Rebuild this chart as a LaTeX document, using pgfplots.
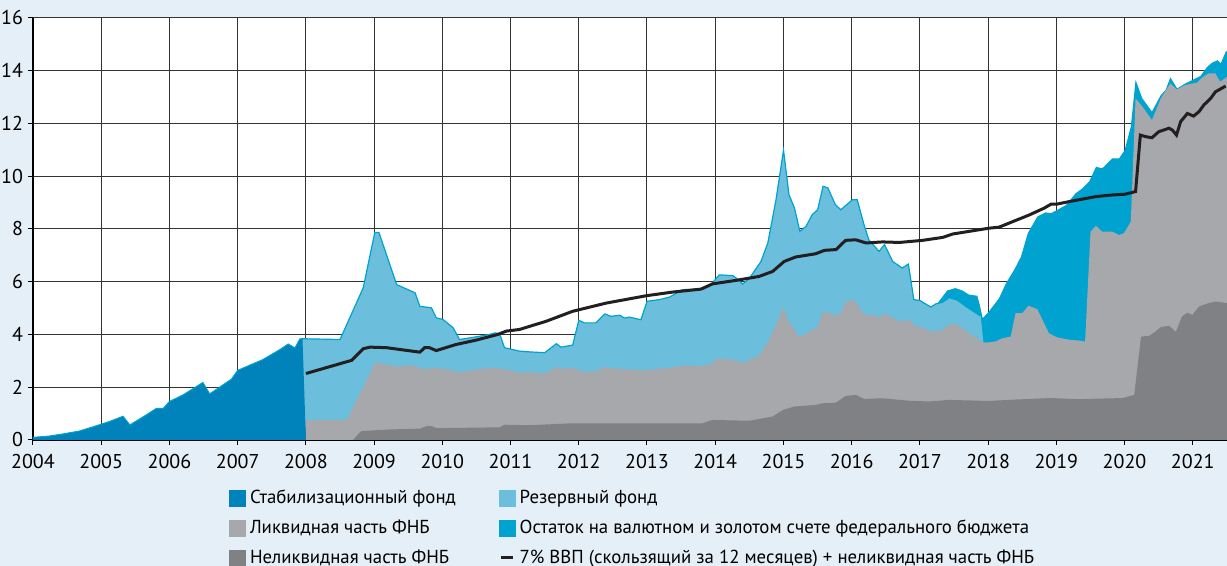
\documentclass[border=0pt]{standalone}
\usepackage{fontspec}
\setmainfont{PT Sans}
\usepackage{pgfplots}
\usepackage{pgfplotstable}
\pgfplotsset{compat=1.18}
\definecolor{bg}{HTML}{E4EFF7}
\definecolor{stab}{HTML}{0082BA}
\definecolor{res}{HTML}{6BBEDC}
\definecolor{rem}{HTML}{00A2CF}
\definecolor{liq}{HTML}{A7A8AC}
\definecolor{illiq}{HTML}{808185}
\definecolor{gdp}{HTML}{231F20}
\definecolor{gridc}{HTML}{333333}

\pgfplotstableread{
x y
2004.0 0.10
2004.24 0.15
2004.44 0.23
2004.68 0.34
2004.88 0.50
2005.0 0.60
2005.12 0.70
2005.32 0.90
2005.42 0.57
2005.66 0.95
2005.81 1.20
2005.91 1.20
2006.0 1.46
2006.2 1.71
2006.49 2.18
2006.59 1.75
2006.91 2.31
2007.0 2.64
2007.37 3.05
2007.62 3.43
2007.74 3.64
2007.84 3.49
2007.91 3.83
2007.95 3.83
2008.0 0
}\stabdata

\pgfplotstableread{
x y
2008.0 0
2007.93 3.84
2008.5 3.81
2008.84 5.77
2009.01 7.87
2009.07 7.87
2009.33 5.89
2009.6 5.58
2009.67 5.07
2009.84 5.01
2009.91 4.63
2010.01 4.57
2010.16 4.25
2010.25 3.81
2010.4 3.87
2010.69 4.00
2010.77 4.06
2010.84 4.03
2010.91 3.50
2011.13 3.37
2011.28 3.34
2011.5 3.31
2011.67 3.65
2011.74 3.52
2011.91 3.60
2012.0 4.54
2012.08 4.44
2012.25 4.44
2012.38 4.78
2012.47 4.69
2012.6 4.73
2012.67 4.62
2012.74 4.66
2012.91 4.56
2013.0 5.26
2013.18 5.32
2013.33 5.42
2013.52 5.70
2013.77 5.72
2013.91 5.82
2014.06 6.26
2014.26 6.23
2014.33 6.09
2014.4 5.91
2014.5 6.13
2014.67 6.77
2014.77 7.47
2014.89 9.11
2015.0 10.99
2015.08 9.30
2015.16 8.80
2015.24 7.91
2015.33 8.10
2015.42 8.54
2015.5 8.73
2015.58 9.62
2015.65 9.56
2015.76 8.92
2015.84 8.73
2016.01 9.11
2016.08 9.11
2016.18 8.16
2016.25 7.59
2016.4 7.15
2016.48 7.41
2016.6 6.77
2016.74 6.52
2016.83 6.67
2016.91 5.32
2017.0 5.29
2017.06 5.19
2017.16 5.04
2017.23 5.16
2017.33 5.22
2017.43 5.40
2017.55 5.30
2017.68 5.05
2017.8 4.85
2017.89 4.70
2017.93 3.70
}\resdata

\pgfplotstableread{
x y
2017.25 5.16
2017.4 5.67
2017.52 5.76
2017.62 5.67
2017.72 5.51
2017.84 5.47
2017.87 5.19
2017.92 4.62
2018.01 4.87
2018.16 5.38
2018.26 5.94
2018.38 6.45
2018.48 6.95
2018.58 7.84
2018.72 8.47
2018.84 8.63
2018.92 8.60
2019.01 8.72
2019.14 8.91
2019.28 9.35
2019.38 9.54
2019.48 9.80
2019.58 10.36
2019.67 10.30
2019.82 10.68
2019.92 10.68
2020.0 10.99
2020.09 11.88
2020.16 13.65
2020.26 12.95
2020.40 12.45
2020.53 13.08
2020.6 13.27
2020.67 13.75
2020.77 13.33
2020.89 13.52
2021.01 13.67
2021.11 13.80
2021.21 14.15
2021.28 14.30
2021.36 14.40
2021.41 14.28
2021.48 14.72
2021.5 14.75
}\remdata

\pgfplotstableread{
x y
2008.0 0.76
2008.6 0.76
2009.02 2.95
2009.18 2.86
2009.33 2.78
2009.55 2.84
2009.74 2.68
2009.91 2.74
2010.06 2.68
2010.25 2.57
2010.45 2.65
2010.74 2.74
2010.99 2.65
2011.13 2.55
2011.28 2.57
2011.5 2.52
2011.67 2.76
2011.74 2.70
2011.91 2.74
2012.08 2.57
2012.25 2.61
2012.38 2.76
2012.55 2.70
2012.74 2.67
2013.0 2.65
2013.33 2.74
2013.52 2.82
2013.77 2.80
2013.94 2.86
2014.01 3.08
2014.2 3.08
2014.4 2.92
2014.5 3.04
2014.64 3.19
2014.79 3.80
2014.91 4.49
2015.0 5.06
2015.06 4.56
2015.13 4.30
2015.23 3.90
2015.33 4.03
2015.5 4.30
2015.58 4.87
2015.67 4.81
2015.76 4.71
2015.84 4.81
2015.91 5.25
2016.04 5.32
2016.16 4.81
2016.26 4.71
2016.33 4.75
2016.4 4.62
2016.48 4.81
2016.6 4.62
2016.74 4.49
2016.84 4.56
2016.94 4.30
2017.04 4.27
2017.16 4.11
2017.31 4.15
2017.43 4.37
2017.53 4.41
2017.72 4.05
2017.92 3.70
2018.01 3.70
2018.11 3.74
2018.21 3.86
2018.33 3.92
2018.4 4.81
2018.5 4.81
2018.59 5.09
2018.72 4.96
2018.89 4.05
2019.01 3.89
2019.19 3.80
2019.33 3.77
2019.42 3.73
2019.5 7.90
2019.58 8.12
2019.67 7.90
2019.82 7.90
2019.92 7.77
2019.99 7.84
2020.09 8.28
2020.16 12.95
2020.26 12.64
2020.40 12.13
2020.53 12.95
2020.67 13.52
2020.76 13.29
2020.89 13.46
2021.06 13.55
2021.14 13.75
2021.23 13.90
2021.33 13.90
2021.40 13.58
2021.5 13.77
}\liqdata

\pgfplotstableread{
x y
2008.69 0
2008.81 0.34
2009.23 0.40
2009.67 0.43
2009.77 0.53
2009.84 0.53
2009.91 0.45
2010.84 0.48
2010.91 0.58
2011.28 0.56
2011.86 0.63
2013.81 0.63
2013.96 0.76
2014.5 0.73
2014.69 0.82
2014.84 0.89
2014.99 1.14
2015.16 1.27
2015.47 1.33
2015.57 1.39
2015.77 1.42
2015.91 1.67
2016.06 1.71
2016.18 1.56
2016.45 1.58
2016.84 1.49
2017.13 1.46
2017.43 1.52
2018.01 1.48
2018.36 1.53
2018.92 1.59
2019.33 1.55
2019.97 1.59
2020.14 1.71
2020.24 3.92
2020.36 3.95
2020.45 4.11
2020.53 4.28
2020.65 4.33
2020.75 4.10
2020.84 4.68
2020.92 4.83
2020.99 4.74
2021.09 5.06
2021.23 5.19
2021.33 5.25
2021.5 5.19
}\illiqdata

\pgfplotstableread{
x y
2008.0 2.52
2008.67 3.02
2008.84 3.46
2008.94 3.52
2009.18 3.50
2009.67 3.33
2009.74 3.50
2009.81 3.50
2009.91 3.39
2010.2 3.62
2010.5 3.79
2010.81 4.00
2010.94 4.13
2011.13 4.19
2011.28 4.31
2011.52 4.50
2011.91 4.88
2012.4 5.19
2012.99 5.47
2013.38 5.61
2013.79 5.72
2013.96 5.92
2014.3 6.05
2014.64 6.20
2014.84 6.39
2015.01 6.77
2015.18 6.94
2015.47 7.06
2015.6 7.19
2015.77 7.22
2015.91 7.57
2016.06 7.59
2016.21 7.47
2016.45 7.51
2016.7 7.49
2017.04 7.57
2017.33 7.68
2017.48 7.81
2017.72 7.91
2018.01 8.03
2018.16 8.07
2018.36 8.28
2018.6 8.53
2018.82 8.79
2018.92 8.94
2019.0 8.94
2019.19 9.04
2019.58 9.23
2019.82 9.29
2020.01 9.32
2020.16 9.42
2020.23 11.56
2020.31 11.50
2020.40 11.46
2020.5 11.69
2020.65 11.82
2020.7 11.75
2020.76 11.56
2020.82 12.07
2020.92 12.38
2021.01 12.28
2021.09 12.45
2021.16 12.70
2021.26 12.95
2021.33 13.20
2021.48 13.42
}\gdpdata

\begin{document}
\begin{tikzpicture}[x=1pt,y=1pt]
\fill[bg] (-16.5,-63) rectangle (597,220);
\begin{axis}[
  at={(0,0)}, anchor=south west,
  scale only axis, width=597pt, height=211pt,
  xmin=2004, xmax=2021.5, ymin=0, ymax=16,
  axis background/.style={fill=white},
  xtick={2004,...,2021}, ytick={0,2,...,16},
  grid=major, major grid style={gridc, line width=0.5pt},
  axis x line*=bottom, axis y line*=left,
  axis line style={-, black, line width=0.6pt},
  tick align=outside, major tick length=2.5pt,
  tick style={black, line width=0.5pt},
  /pgf/number format/1000 sep={},
  /pgf/number format/assume math mode=true,
  tick label style={font=\fontsize{10}{12}\selectfont},
  xticklabel style={yshift=-1pt},
  yticklabel style={xshift=1pt},
  legend columns=2,
  legend cell align=left,
  legend style={at={(rel axis cs:0.164,-0.108)}, anchor=north west,
    draw=none, fill=none, inner sep=0pt,
    font=\fontsize{9.4}{11}\selectfont,
    row sep=2.6pt,
    /tikz/every even column/.append style={column sep=19.5pt}},
]
\addplot[fill=rem, draw=none, forget plot] table {\remdata} \closedcycle;
\addplot[fill=res, draw=none, forget plot] table {\resdata} \closedcycle;
\addplot[rem, line width=0.6pt, forget plot, skip coords between index={0}{1}, restrict x to domain=2007:2017.9] table {\resdata};
\addplot[fill=liq, draw=none, forget plot] table {\liqdata} \closedcycle;
\addplot[fill=illiq, draw=none, forget plot] table {\illiqdata} \closedcycle;
\addplot[fill=stab, draw=none, forget plot] table {\stabdata} \closedcycle;
\addplot[rem, line width=0.5pt, forget plot, restrict x to domain=2003:2007.96] table {\stabdata};
\addplot[gdp, line width=1.5pt, forget plot] table {\gdpdata};

\addlegendimage{legend image code/.code={\fill[stab] (0pt,-4pt) rectangle (8pt,4pt);}}
\addlegendentry{Стабилизационный фонд}
\addlegendimage{legend image code/.code={\fill[res] (0pt,-4pt) rectangle (8pt,4pt);}}
\addlegendentry{Резервный фонд}
\addlegendimage{legend image code/.code={\fill[liq] (0pt,-4pt) rectangle (8pt,4pt);}}
\addlegendentry{Ликвидная часть ФНБ}
\addlegendimage{legend image code/.code={\fill[rem] (0pt,-4pt) rectangle (8pt,4pt);}}
\addlegendentry{Остаток на валютном и золотом счете федерального бюджета}
\addlegendimage{legend image code/.code={\fill[illiq] (0pt,-4pt) rectangle (8pt,4pt);}}
\addlegendentry{Неликвидная часть ФНБ}
\addlegendimage{legend image code/.code={\draw[gdp, line width=1.5pt] (1pt,0pt) -- (7pt,0pt);}}
\addlegendentry{7\% ВВП (скользящий за 12 месяцев) + неликвидная часть ФНБ}
\end{axis}
\pgfresetboundingbox
\path (-16.5,-63) rectangle (597,220);
\end{tikzpicture}
\end{document}
